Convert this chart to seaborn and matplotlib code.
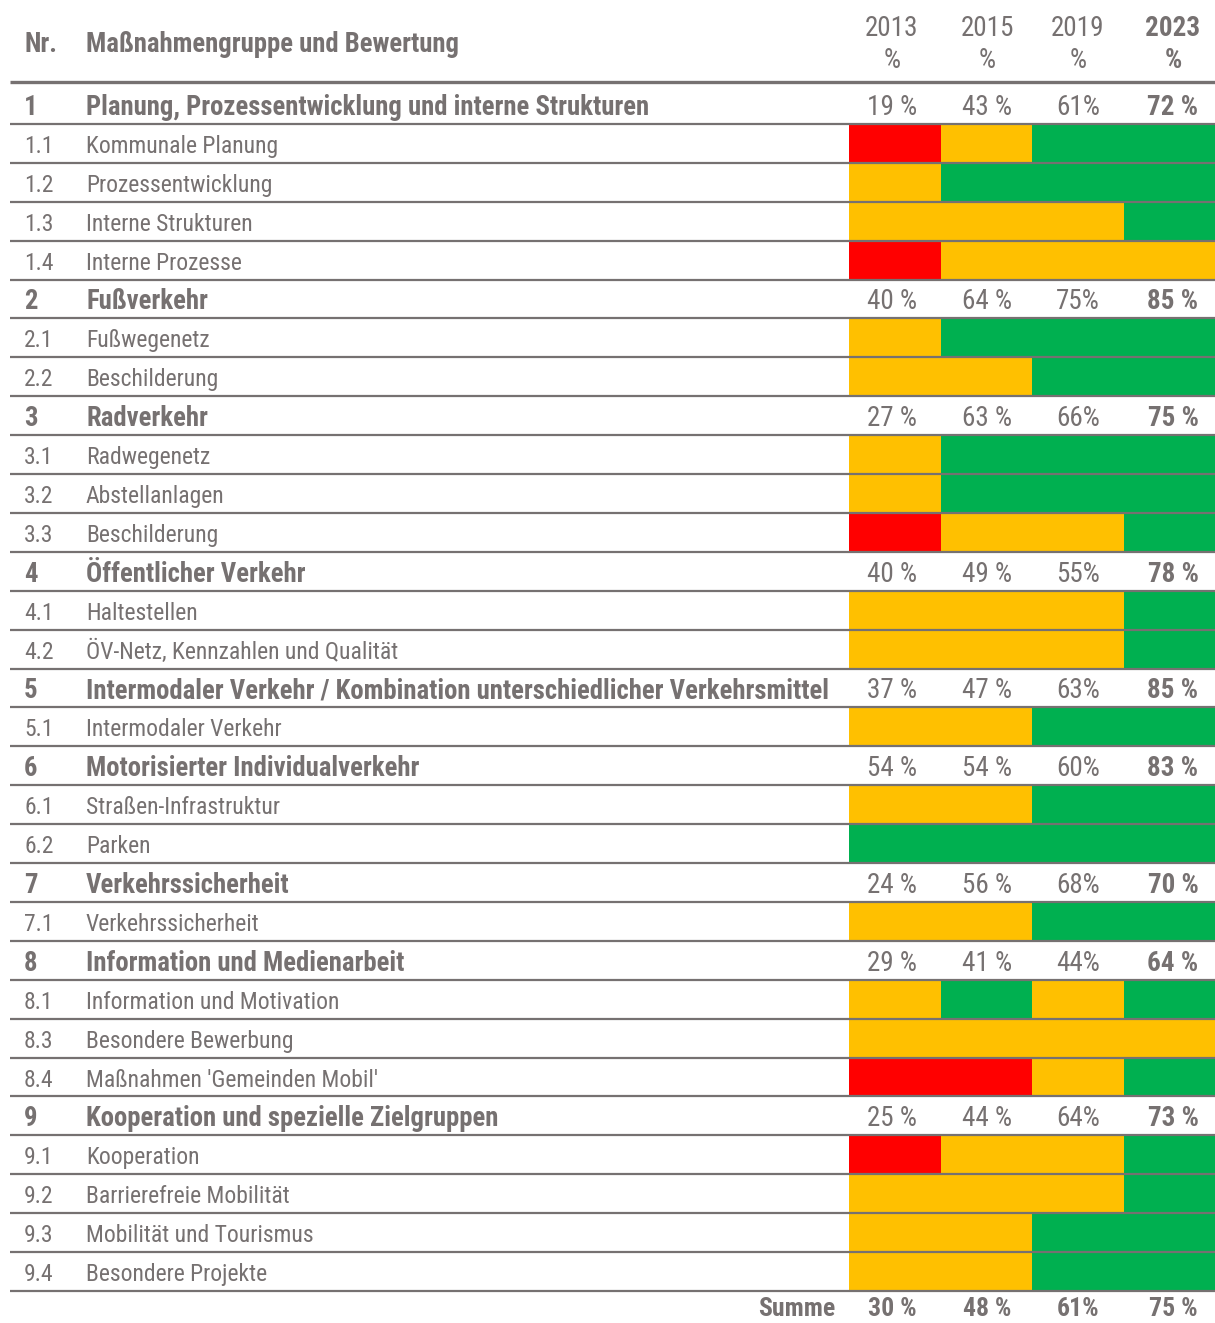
import numpy as np
import pandas as pd
import seaborn as sns
import matplotlib.pyplot as plt
from matplotlib import font_manager as fm
from matplotlib.colors import ListedColormap

# rows of the table
nr = ["1", "1.1", "1.2", "1.3", "1.4",
      "2", "2.1", "2.2",
      "3", "3.1", "3.2", "3.3",
      "4", "4.1", "4.2",
      "5", "5.1",
      "6", "6.1", "6.2",
      "7", "7.1",
      "8", "8.1", "8.3", "8.4",
      "9", "9.1", "9.2", "9.3", "9.4"]
labels = ["Planung, Prozessentwicklung und interne Strukturen", "Kommunale Planung",
          "Prozessentwicklung", "Interne Strukturen", "Interne Prozesse",
          "Fußverkehr", "Fußwegenetz", "Beschilderung",
          "Radverkehr", "Radwegenetz", "Abstellanlagen", "Beschilderung",
          "Öffentlicher Verkehr", "Haltestellen", "ÖV-Netz, Kennzahlen und Qualität",
          "Intermodaler Verkehr / Kombination unterschiedlicher Verkehrsmittel", "Intermodaler Verkehr",
          "Motorisierter Individualverkehr", "Straßen-Infrastruktur", "Parken",
          "Verkehrssicherheit", "Verkehrssicherheit",
          "Information und Medienarbeit", "Information und Motivation",
          "Besondere Bewerbung", "Maßnahmen 'Gemeinden Mobil'",
          "Kooperation und spezielle Zielgruppen", "Kooperation", "Barrierefreie Mobilität",
          "Mobilität und Tourismus", "Besondere Projekte"]

years = ["2013", "2015", "2019", "2023"]

# rating per sub-item: 0 = rot, 1 = gelb, 2 = grün ; None = group row
rating = [None, [0, 1, 2, 2], [1, 2, 2, 2], [1, 1, 1, 2], [0, 1, 1, 1],
          None, [1, 2, 2, 2], [1, 1, 2, 2],
          None, [1, 2, 2, 2], [1, 2, 2, 2], [0, 1, 1, 2],
          None, [1, 1, 1, 2], [1, 1, 1, 2],
          None, [1, 1, 2, 2],
          None, [1, 1, 2, 2], [2, 2, 2, 2],
          None, [1, 1, 2, 2],
          None, [1, 2, 1, 2], [1, 1, 1, 1], [0, 0, 1, 2],
          None, [0, 1, 1, 2], [1, 1, 1, 2], [1, 1, 2, 2], [1, 1, 2, 2]]

# group percentages
group_pct = {
    "1": ["19 %", "43 %", "61%", "72 %"],
    "2": ["40 %", "64 %", "75%", "85 %"],
    "3": ["27 %", "63 %", "66%", "75 %"],
    "4": ["40 %", "49 %", "55%", "78 %"],
    "5": ["37 %", "47 %", "63%", "85 %"],
    "6": ["54 %", "54 %", "60%", "83 %"],
    "7": ["24 %", "56 %", "68%", "70 %"],
    "8": ["29 %", "41 %", "44%", "64 %"],
    "9": ["25 %", "44 %", "64%", "73 %"],
}
summe = ["30 %", "48 %", "61%", "75 %"]

grid = pd.DataFrame([r if r is not None else [np.nan] * 4 for r in rating],
                    index=nr, columns=years)

# pick a narrow font if one is there (with a bold cut), else fall back
have = {}
for f in fm.fontManager.ttflist:
    have.setdefault(f.name, set()).add(f.weight if isinstance(f.weight, int) else 400)
family = "DejaVu Sans"
for cand in ["Archivo Narrow", "Roboto Condensed", "Liberation Sans Narrow",
             "Sofia Sans Condensed", "Saira SemiCondensed"]:
    if cand in have and max(have[cand]) >= 600:
        family = cand
        break
plt.rcParams["font.family"] = [family, "DejaVu Sans"]

gray = "#767171"
cmap = ListedColormap(["#FF0000", "#FFC000", "#00B050"])

W, H = 1215, 1323
top, bottom = 85, 1291
x0, x1 = 849, 1215
n = len(nr)
h = (bottom - top) / n

fig = plt.figure(figsize=(W / 100, H / 100), dpi=100)
axh = fig.add_axes([x0 / W, 1 - bottom / H, (x1 - x0) / W, (bottom - top) / H])
sns.heatmap(grid, ax=axh, cmap=cmap, vmin=-0.5, vmax=2.5, cbar=False)
axh.axis("off")

ax = fig.add_axes([0, 0, 1, 1])
ax.set_xlim(0, W)
ax.set_ylim(H, 0)
ax.axis("off")
ax.patch.set_alpha(0)

# sizes; shrink all if the longest label does not fit before the cells
fs_sub, fs_grp, fs_pct = 17, 19.3, 19.5
probe = ax.text(86, 0, labels[15], fontsize=fs_grp, fontweight="bold")
fig.canvas.draw()
wpx = probe.get_window_extent(renderer=fig.canvas.get_renderer()).width
probe.remove()
k = min(1.0, 748 / wpx)
fs_sub, fs_grp, fs_pct = fs_sub * k, fs_grp * k, fs_pct * min(1.0, k * 1.1)

col_x = [892, 987, 1078, 1173]

# header
ax.text(24, 44, "Nr.", color=gray, fontsize=fs_grp, fontweight="bold", va="center")
ax.text(86, 44, "Maßnahmengruppe und Bewertung", color=gray, fontsize=fs_grp,
        fontweight="bold", va="center")
for i, (cx, yr) in enumerate(zip(col_x, years)):
    fw = "bold" if i == 3 else "normal"
    ax.text(cx, 28, yr, color=gray, fontsize=fs_pct, fontweight=fw, ha="center", va="center")
    ax.text(cx, 61, "%", color=gray, fontsize=fs_pct, fontweight=fw, ha="center", va="center")
ax.plot([10, W], [82, 82], color=gray, lw=2.4, solid_capstyle="butt")

for i, (num, lab) in enumerate(zip(nr, labels)):
    yc = top + (i + 0.5) * h + 3
    if "." not in num:
        ax.text(24, yc, num, color=gray, fontsize=fs_grp, fontweight="bold", va="center")
        ax.text(86, yc, lab, color=gray, fontsize=fs_grp, fontweight="bold", va="center")
        for j, (cx, p) in enumerate(zip(col_x, group_pct[num])):
            ax.text(cx, yc, p, color=gray, fontsize=fs_pct,
                    fontweight="bold" if j == 3 else "normal", ha="center", va="center")
    else:
        ax.text(24, yc, num, color=gray, fontsize=fs_sub, va="center")
        ax.text(86, yc, lab, color=gray, fontsize=fs_sub, va="center")
    ax.plot([10, W], [top + (i + 1) * h] * 2, color=gray, lw=1.6, solid_capstyle="butt")

# sum row, kept just inside the bottom edge
fs_sum = fs_pct * 0.95
ax.text(835, 1321, "Summe", color=gray, fontsize=fs_sum, fontweight="bold", ha="right", va="bottom")
for cx, p in zip(col_x, summe):
    ax.text(cx, 1321, p, color=gray, fontsize=fs_sum, fontweight="bold", ha="center", va="bottom")

fig.savefig("out.png", dpi=100)
